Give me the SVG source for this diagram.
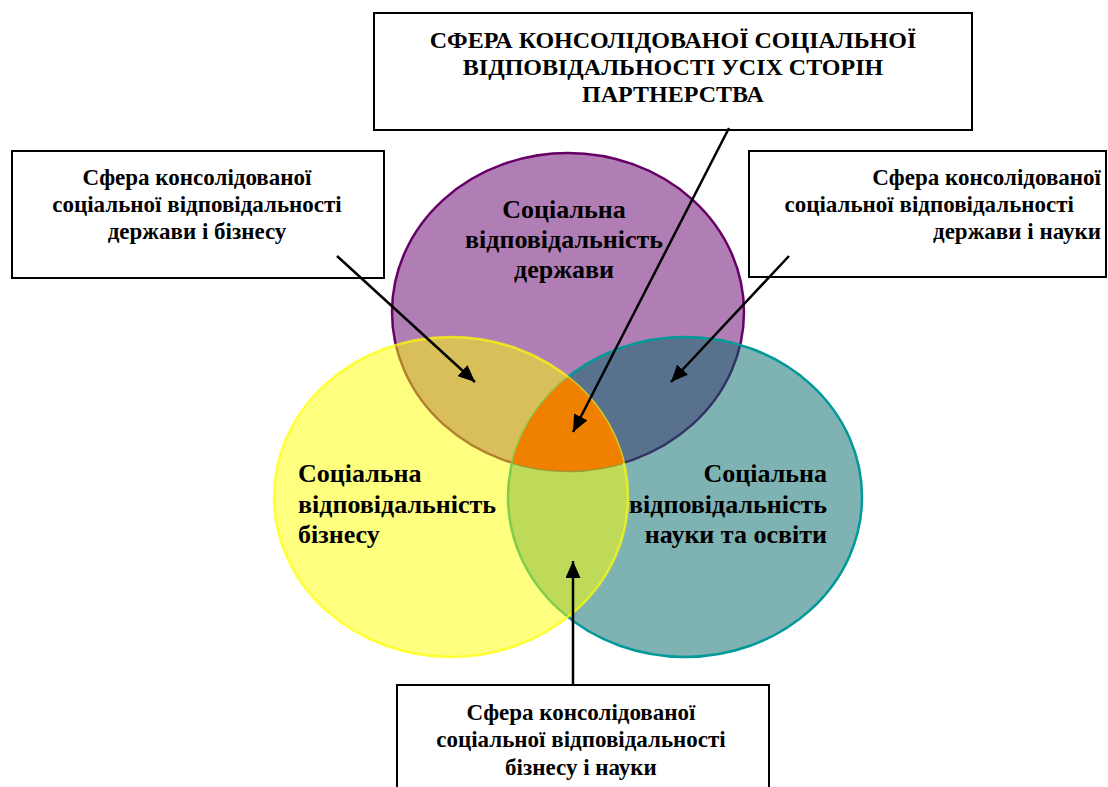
<svg xmlns="http://www.w3.org/2000/svg" width="1108" height="787" viewBox="0 0 1108 787">
<style>
.box{fill:#fff;stroke:#000;stroke-width:2}
.t{font-family:"Liberation Serif","Times New Roman",serif;font-weight:bold;fill:#000}
.bt{font-size:23px}
.ct{font-size:26px}
.title{font-size:24px}
.conn{stroke:#000;stroke-width:2.5;fill:none;marker-end:url(#ah)}
</style>
<defs>
<marker id="ah" markerUnits="userSpaceOnUse" markerWidth="17" markerHeight="15" refX="17" refY="7.5" orient="auto">
<path d="M0,0 L17,7.5 L0,15 z" fill="#000"/>
</marker>
<clipPath id="cP"><ellipse cx="568" cy="312" rx="176" ry="159"/></clipPath>
<clipPath id="cY"><ellipse cx="451" cy="497" rx="177" ry="160"/></clipPath>
</defs>
<rect width="1108" height="787" fill="#fff"/>
<g id="circle-state">
<ellipse cx="568" cy="312" rx="176" ry="159" fill="#B07EB4" stroke="#660066" stroke-width="2.5"/>
</g>
<g id="circle-science">
<ellipse cx="685" cy="497" rx="177" ry="160" fill="#006666" fill-opacity="0.5" stroke="#009999" stroke-width="2.5"/>
</g>
<g id="circle-business">
<ellipse cx="451" cy="497" rx="177" ry="160" fill="#FFFF00" fill-opacity="0.5" stroke="#FFFF00" stroke-opacity="0.7" stroke-width="2.5"/>
</g>
<g id="center-zone" clip-path="url(#cP)">
<g clip-path="url(#cY)">
<ellipse cx="685" cy="497" rx="177" ry="160" fill="#F08000"/>
</g>
</g>
<g id="label-state">
<text class="t ct" x="564" y="218" text-anchor="middle">Соціальна</text>
<text class="t ct" x="564" y="248" text-anchor="middle">відповідальність</text>
<text class="t ct" x="564" y="278" text-anchor="middle">держави</text>
</g>
<g id="label-business">
<text class="t ct" x="298" y="482">Соціальна</text>
<text class="t ct" x="298" y="513">відповідальність</text>
<text class="t ct" x="298" y="543">бізнесу</text>
</g>
<g id="label-science">
<text class="t ct" x="827" y="482" text-anchor="end">Соціальна</text>
<text class="t ct" x="827" y="513" text-anchor="end">відповідальність</text>
<text class="t ct" x="827" y="543" text-anchor="end">науки та освіти</text>
</g>
<g id="box-all">
<rect class="box" x="374" y="13" width="598" height="117"/>
<text class="t title" x="673" y="48" text-anchor="middle">СФЕРА КОНСОЛІДОВАНОЇ СОЦІАЛЬНОЇ</text>
<text class="t title" x="673" y="75" text-anchor="middle">ВІДПОВІДАЛЬНОСТІ УСІХ СТОРІН</text>
<text class="t title" x="673" y="102" text-anchor="middle">ПАРТНЕРСТВА</text>
</g>
<g id="box-state-business">
<rect class="box" x="12" y="151" width="372" height="127"/>
<text class="t bt" x="197" y="185" text-anchor="middle">Сфера консолідованої</text>
<text class="t bt" x="197" y="212" text-anchor="middle">соціальної відповідальності</text>
<text class="t bt" x="197" y="239" text-anchor="middle">держави і бізнесу</text>
</g>
<g id="box-state-science">
<rect class="box" x="749" y="151" width="357" height="126"/>
<text class="t bt" x="1101" y="185" text-anchor="end">Сфера консолідованої</text>
<text class="t bt" x="1074" y="212" text-anchor="end">соціальної відповідальності</text>
<text class="t bt" x="1101" y="239" text-anchor="end">держави і науки</text>
</g>
<g id="box-business-science">
<rect class="box" x="397" y="685" width="372" height="110"/>
<text class="t bt" x="581" y="720" text-anchor="middle">Сфера консолідованої</text>
<text class="t bt" x="581" y="747" text-anchor="middle">соціальної відповідальності</text>
<text class="t bt" x="581" y="775" text-anchor="middle">бізнесу і науки</text>
</g>
<g id="connectors">
<line class="conn" x1="729" y1="128" x2="573" y2="432"/>
<line class="conn" x1="337" y1="256" x2="475" y2="382"/>
<line class="conn" x1="789" y1="256" x2="671" y2="382"/>
<line class="conn" x1="573" y1="685" x2="573" y2="561"/>
</g>
</svg>
